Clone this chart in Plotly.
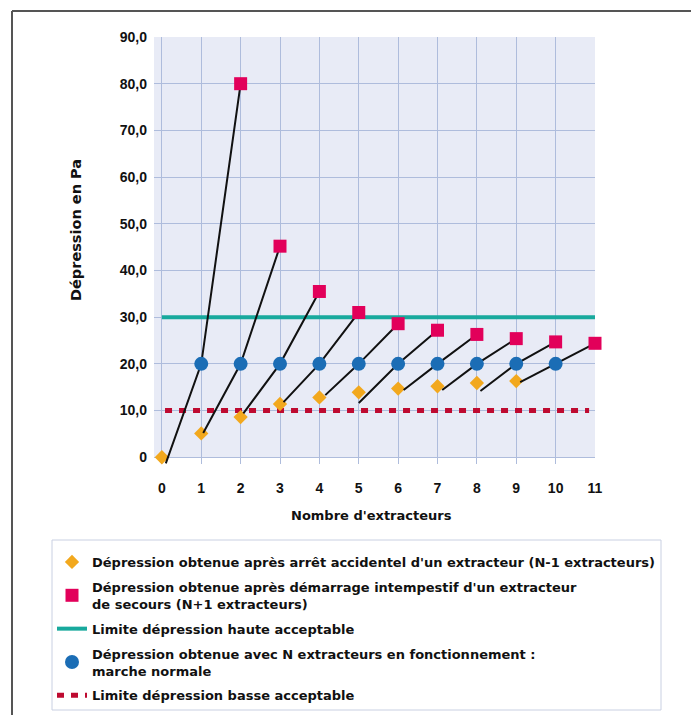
import plotly.graph_objects as go

# ---------------- data ----------------
x_ticks = list(range(0, 12))
y_ticks = [0, 10, 20, 30, 40, 50, 60, 70, 80, 90]
y_tick_labels = ["0", "10,0", "20,0", "30,0", "40,0", "50,0", "60,0", "70,0", "80,0", "90,0"]

# N-1 extracteurs (diamonds)
n_moins_1_x = [0, 1, 2, 3, 4, 5, 6, 7, 8, 9]
n_moins_1_y = [0, 5.1, 8.6, 11.4, 12.8, 13.9, 14.7, 15.2, 15.9, 16.3]

# N+1 extracteurs (squares)
n_plus_1_x = [2, 3, 4, 5, 6, 7, 8, 9, 10, 11]
n_plus_1_y = [80.0, 45.2, 35.5, 31.0, 28.6, 27.2, 26.3, 25.4, 24.7, 24.4]

# N extracteurs, marche normale (circles)
n_x = [1, 2, 3, 4, 5, 6, 7, 8, 9, 10]
n_y = [20, 20, 20, 20, 20, 20, 20, 20, 20, 20]

# starting points of the black connecting lines
ligne_debut_x = [0.1, 1.05, 2.07, 3.09, 4.15, 5.0, 6.14, 7.12, 8.09, 9.1]
ligne_debut_y = [-1.3, 5.2, 9.4, 11.8, 13.3, 11.6, 14.4, 14.4, 14.2, 16.1]

# acceptable limits
limite_haute_x = [0, 11]
limite_haute_y = [30, 30]
limite_basse_x = [0.08, 10.85]
limite_basse_y = [10, 10]

legend_labels = [
    "Dépression obtenue après arrêt accidentel d'un extracteur (N-1 extracteurs)",
    "Dépression obtenue après démarrage intempestif d'un extracteur<br>de secours (N+1 extracteurs)",
    "Limite dépression haute acceptable",
    "Dépression obtenue avec N extracteurs en fonctionnement :<br>marche normale",
    "Limite dépression basse acceptable",
]

# ---------------- layout geometry ----------------
OFF = 8  # page body margin
W, H = 699 - OFF, 715 - OFF
L, R, T, B = 154 - OFF, 104, 37 - OFF, 251
PW, PH = W - L - R, H - T - B


def px(x):
    return (x - OFF - L) / PW


def py(y):
    return (H - B - (y - OFF)) / PH


FONT = "Liberation Sans, Arial, Helvetica, sans-serif"
WIDE = "DejaVu Sans, Liberation Sans, sans-serif"

ORANGE = "#F2A81D"
CRIMSON = "#E2005A"
BLUE = "#1B6DB5"
TEAL = "#18A99D"
DARKRED = "#BE0A30"
GRID = "#AEBCDC"
BG = "#E8EBF6"

fig = go.Figure()

fig.add_trace(go.Scatter(
    x=limite_basse_x, y=limite_basse_y, mode="lines",
    line=dict(color=DARKRED, width=5, dash="7px,7px"),
    name="<b>" + legend_labels[4] + "</b>", legendrank=5, legendgroup="e",
    hoverinfo="skip"))

fig.add_trace(go.Scatter(
    x=limite_haute_x, y=limite_haute_y, mode="lines",
    line=dict(color=TEAL, width=4),
    name="<b>" + legend_labels[2] + "</b>", legendrank=3, legendgroup="c",
    hoverinfo="skip"))

fig.add_trace(go.Scatter(
    x=n_moins_1_x, y=n_moins_1_y, mode="markers",
    marker=dict(symbol="diamond", size=11, color=ORANGE, line=dict(width=0)),
    name="<b>" + legend_labels[0] + "</b>", legendrank=1, legendgroup="a",
    cliponaxis=False))

lx, ly = [], []
for i in range(len(ligne_debut_x)):
    lx += [ligne_debut_x[i], n_x[i], n_plus_1_x[i], None]
    ly += [ligne_debut_y[i], n_y[i], n_plus_1_y[i], None]
fig.add_trace(go.Scatter(
    x=lx, y=ly, mode="lines", line=dict(color="#111111", width=2),
    showlegend=False, hoverinfo="skip"))

fig.add_trace(go.Scatter(
    x=n_x, y=n_y, mode="markers",
    marker=dict(symbol="circle", size=14, color=BLUE, line=dict(width=0)),
    name="<b>" + legend_labels[3] + "</b>", legendrank=4, legendgroup="d",
    cliponaxis=False))

fig.add_trace(go.Scatter(
    x=n_plus_1_x, y=n_plus_1_y, mode="markers",
    marker=dict(symbol="square", size=13, color=CRIMSON, line=dict(width=0)),
    name="<b>" + legend_labels[1] + "</b>", legendrank=2, legendgroup="b",
    cliponaxis=False))

shapes = [
    dict(type="rect", xref="x", yref="y", x0=-0.2, x1=11, y0=0, y1=90,
         fillcolor=BG, line=dict(width=0), layer="below"),
    dict(type="line", xref="paper", yref="paper", x0=px(12), x1=px(699),
         y0=py(11), y1=py(11), line=dict(color="#555555", width=2)),
    dict(type="line", xref="paper", yref="paper", x0=px(12), x1=px(12),
         y0=py(11), y1=py(715), line=dict(color="#555555", width=2)),
    # legend frame
    dict(type="rect", xref="paper", yref="paper", x0=px(52), x1=px(661),
         y0=py(710), y1=py(540), line=dict(color="#C9D0E2", width=1),
         fillcolor="rgba(0,0,0,0)", layer="below"),
]

annotations = [
    dict(text="<b>Dépression en Pa</b>", xref="paper", yref="paper",
         x=px(76), y=py(230), textangle=-90, showarrow=False,
         xanchor="center", yanchor="middle",
         font=dict(family=WIDE, size=14.5, color="#111111")),
    dict(text="<b>Nombre d'extracteurs</b>", xref="paper", yref="paper",
         x=px(371), y=py(516), showarrow=False,
         xanchor="center", yanchor="middle",
         font=dict(family=WIDE, size=13, color="#111111")),
]

fig.update_layout(
    width=W, height=H,
    margin=dict(l=L, r=R, t=T, b=B, pad=0, autoexpand=False),
    paper_bgcolor="white", plot_bgcolor="white",
    font=dict(family=FONT, size=13, color="#111111"),
    shapes=shapes, annotations=annotations,
    legend=dict(
        x=px(52), y=py(547), xanchor="left", yanchor="top",
        bgcolor="rgba(0,0,0,0)", borderwidth=0,
        font=dict(family=WIDE, size=13, color="#111111"),
        tracegroupgap=5, traceorder="grouped", itemwidth=30,
        valign="middle"),
    showlegend=True,
)

fig.update_xaxes(
    range=[-0.2, 11], tickvals=x_ticks, ticktext=[str(v) for v in x_ticks],
    showgrid=True, gridcolor=GRID, gridwidth=1, zeroline=False,
    showline=False, ticks="", ticklabelstandoff=14,
    tickfont=dict(family=FONT, size=14, color="#111111", weight="bold"),
    fixedrange=True)

fig.update_yaxes(
    range=[-1.45, 90], tickvals=y_ticks, ticktext=y_tick_labels,
    showgrid=True, gridcolor=GRID, gridwidth=1, zeroline=False,
    showline=False, ticks="", ticklabelstandoff=6,
    tickfont=dict(family=FONT, size=14, color="#111111", weight="bold"),
    fixedrange=True)

fig.write_html("out.html")
